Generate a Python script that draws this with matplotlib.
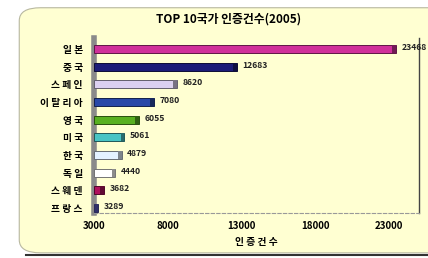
import matplotlib.pyplot as plt
from matplotlib.patches import FancyBboxPatch
from matplotlib.colors import to_rgb

plt.rcParams['font.family'] = ['Noto Sans CJK KR', 'DejaVu Sans']

countries = ['일본', '중국', '스페인', '이탈리아', '영국', '미국', '한국', '독일', '스웨덴', '프랑스']
counts = [23468, 12683, 8620, 7080, 6055, 5061, 4879, 4440, 3682, 3289]
colors = ['#d0309a', '#1c1c78', '#dcd0f0', '#2848a8', '#58b020',
          '#48c4c4', '#e4f2ff', '#ffffff', '#b0105c', '#5858c0']
xticks = [3000, 8000, 13000, 18000, 23000]
base = 3000


def darker(c, f=0.55):
    r, g, b = to_rgb(c)
    return (r * f, g * f, b * f)


fig = plt.figure(figsize=(4.28, 2.58), dpi=100)
fig.patch.set_facecolor('white')

# yellow rounded panel
panel = FancyBboxPatch((0.045, 0.02), 1.1, 0.95, boxstyle='round,pad=0,rounding_size=0.05',
                       transform=fig.transFigure, facecolor='#ffffd2', edgecolor='#b8b8a0',
                       linewidth=0.8, zorder=-5)
fig.patches.append(panel)
fig.add_artist(plt.Line2D([0.06, 1.0], [0.01, 0.01], transform=fig.transFigure,
                          color='#333333', linewidth=1.5))

ax = fig.add_axes([0.2196, 0.1744, 0.7594, 0.6786])
ax.set_zorder(2)
ax.set_facecolor('none')

ypos = list(range(len(countries)))
widths = [v - base for v in counts]
ax.barh(ypos, widths, left=base, height=0.45, color=colors,
        edgecolor=[darker(c, 0.45) for c in colors], linewidth=0.7, zorder=3)
# darker end caps for 3D look
cap = 250
ax.barh(ypos, [cap] * len(counts), left=[v - cap for v in counts], height=0.45,
        color=[darker(c) for c in colors], edgecolor='none', zorder=4)

for y, v in zip(ypos, counts):
    ax.annotate(str(v), (v, y), xytext=(4, 1), textcoords='offset points',
                va='center', ha='left', fontsize=6.2, fontweight='bold', color='#222222',
                annotation_clip=False)

ax.set_xlim(3000, 25050)
ax.set_ylim(9.28, -0.62)
ax.set_yticks(ypos)
ax.set_yticklabels([' '.join(c) for c in countries], fontsize=7, fontweight='bold')
ax.set_xticks(xticks)
ax.set_xticklabels([str(t) for t in xticks], fontsize=7, fontweight='bold')
ax.tick_params(axis='both', length=0, pad=8)
ax.tick_params(axis='x', pad=6)

ax.spines['top'].set_visible(False)
ax.spines['left'].set_color('#8a8a8a')
ax.spines['left'].set_linewidth(4)
ax.spines['right'].set_color('#444444')
ax.spines['right'].set_linewidth(1)
ax.spines['bottom'].set_color('#999999')
ax.spines['bottom'].set_linestyle((0, (3, 2)))
ax.spines['bottom'].set_linewidth(0.8)

ax.set_xlabel('인 증 건 수', fontsize=7, fontweight='bold', labelpad=4)
fig.text(0.533, 0.925, 'TOP 10국가 인증건수(2005)', ha='center', va='center',
         fontsize=8.5, fontweight='bold')

fig.savefig('out.png', dpi=100)
